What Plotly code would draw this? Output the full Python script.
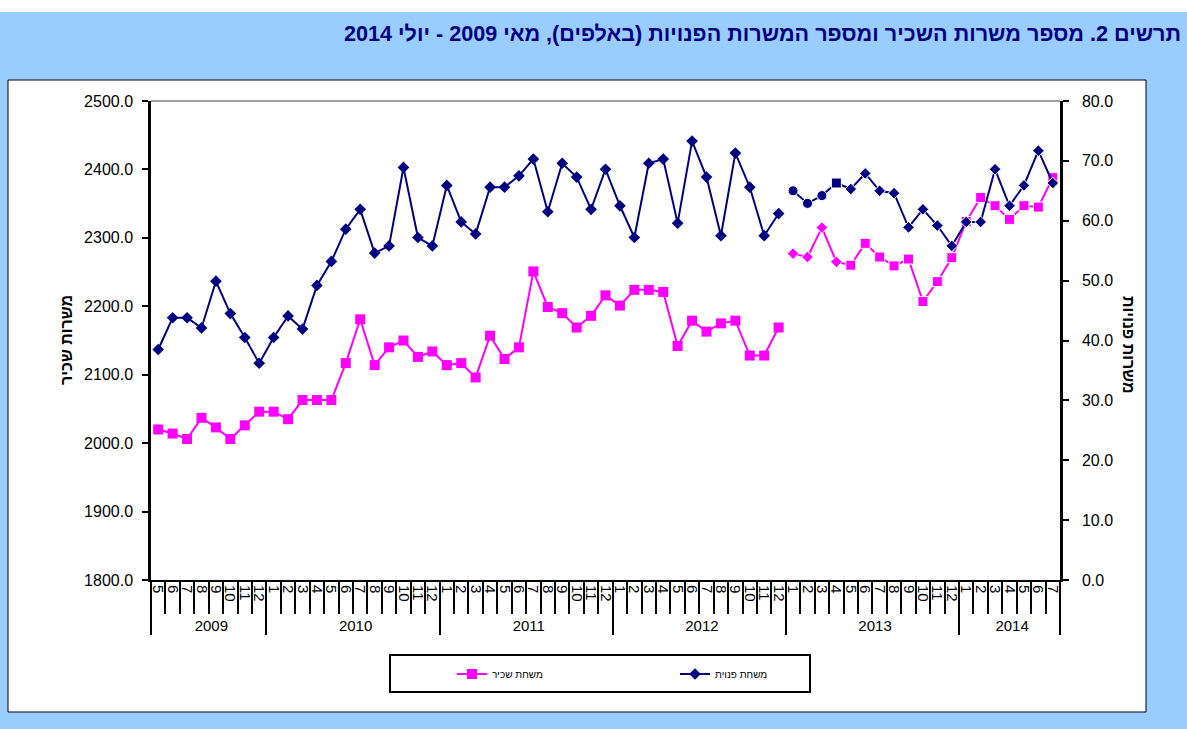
import plotly.graph_objects as go

# ---------------- data ----------------
year_labels = [
    2009, 2009, 2009, 2009, 2009, 2009, 2009, 2009,
    2010, 2010, 2010, 2010, 2010, 2010, 2010, 2010, 2010, 2010, 2010, 2010,
    2011, 2011, 2011, 2011, 2011, 2011, 2011, 2011, 2011, 2011, 2011, 2011,
    2012, 2012, 2012, 2012, 2012, 2012, 2012, 2012, 2012, 2012, 2012, 2012,
    2013, 2013, 2013, 2013, 2013, 2013, 2013, 2013, 2013, 2013, 2013, 2013,
    2014, 2014, 2014, 2014, 2014, 2014, 2014,
]
month_labels = [
    5, 6, 7, 8, 9, 10, 11, 12,
    1, 2, 3, 4, 5, 6, 7, 8, 9, 10, 11, 12,
    1, 2, 3, 4, 5, 6, 7, 8, 9, 10, 11, 12,
    1, 2, 3, 4, 5, 6, 7, 8, 9, 10, 11, 12,
    1, 2, 3, 4, 5, 6, 7, 8, 9, 10, 11, 12,
    1, 2, 3, 4, 5, 6, 7,
]
# salaried jobs (thousands) - left axis
salaried_jobs = [
    2020, 2014, 2006, 2037, 2023, 2006, 2026, 2046,
    2046, 2035, 2063, 2063, 2063, 2117, 2181, 2114, 2140, 2150, 2126, 2134,
    2114, 2117, 2096, 2157, 2123, 2140, 2251, 2199, 2190, 2169, 2186, 2216,
    2201, 2224, 2224, 2221, 2142, 2179, 2163, 2175, 2179, 2128, 2128, 2169,
    2277, 2272, 2315, 2265, 2260, 2292, 2272, 2259, 2269, 2207, 2236, 2271,
    2324, 2359, 2347, 2327, 2347, 2345, 2388,
]
# vacant jobs (thousands) - right axis
vacant_jobs = [
    38.5, 43.8, 43.8, 42.1, 49.9, 44.5, 40.5, 36.2,
    40.5, 44.1, 41.9, 49.2, 53.2, 58.6, 61.9, 54.6, 55.8, 68.9, 57.2, 55.8,
    65.9, 59.8, 57.8, 65.6, 65.6, 67.5, 70.3, 61.5, 69.6, 67.3, 61.9, 68.6,
    62.5, 57.2, 69.6, 70.3, 59.6, 73.3, 67.3, 57.5, 71.3, 65.6, 57.5, 61.2,
    65.0, 62.9, 64.2, 66.3, 65.3, 67.9, 65.0, 64.6, 58.9, 61.9, 59.2, 55.8,
    59.8, 59.8, 68.6, 62.5, 65.9, 71.7, 66.3,
]
split_index = 44  # series break between 12/2012 and 1/2013

title_text = "תרשים 2. מספר משרות השכיר ומספר המשרות הפנויות (באלפים), מאי 2009 - יולי 2014"
left_title = "משרות שכיר"
right_title = "משרות פנויות"
name_salaried = "משחת שכיר"
name_vacant = "משחת פנוית"

# ---------------- layout geometry ----------------
W, H = 1187, 729
PL, PR, PT, PB = 151, 1060, 101, 580


def px_x(p):
    return (p - PL) / (PR - PL)


def px_y(p):
    return (PB - p) / (PB - PT)


PINK = "#FF00FF"
NAVY = "#000080"
FONT = "Liberation Sans, Arial, sans-serif"

# Plotly orders inner multicategory labels by first appearance; the first
# (partial) year starts in May, so its month labels get an invisible
# zero-width marker to keep every year's months in calendar order.
first_year = year_labels[0]
month_cats = [f"{m}\u200b" if y == first_year else str(m)
              for y, m in zip(year_labels, month_labels)]

xa = [year_labels[:split_index], month_cats[:split_index]]
xb = [year_labels[split_index:], month_cats[split_index:]]
nb = len(year_labels) - split_index
n_cat = len(year_labels)

pink_sym_b = ["diamond"] * 4 + ["square"] * (nb - 4)
pink_size_b = [9] * 4 + [10] * (nb - 4)
navy_sym_b = ["circle"] * 3 + ["square"] + ["diamond"] * (nb - 4)
navy_size_b = [10] * 4 + [9] * (nb - 4)

fig = go.Figure()
fig.add_trace(go.Scatter(
    x=xa, y=salaried_jobs[:split_index], name=name_salaried, mode="lines+markers",
    line=dict(color=PINK, width=2), marker=dict(symbol="square", size=10, color=PINK),
    legendgroup="s"))
fig.add_trace(go.Scatter(
    x=xb, y=salaried_jobs[split_index:], name=name_salaried, mode="lines+markers",
    line=dict(color=PINK, width=2),
    marker=dict(symbol=pink_sym_b, size=pink_size_b, color=PINK, opacity=1),
    legendgroup="s", showlegend=False))
fig.add_trace(go.Scatter(
    x=xa, y=vacant_jobs[:split_index], name=name_vacant, mode="lines+markers", yaxis="y2",
    line=dict(color=NAVY, width=2), marker=dict(symbol="diamond", size=9, color=NAVY),
    legendgroup="v"))
fig.add_trace(go.Scatter(
    x=xb, y=vacant_jobs[split_index:], name=name_vacant, mode="lines+markers", yaxis="y2",
    line=dict(color=NAVY, width=2),
    marker=dict(symbol=navy_sym_b, size=navy_size_b, color=NAVY, opacity=1),
    legendgroup="v", showlegend=False))

shapes = [
    # white strip at very top
    dict(type="rect", xref="paper", yref="paper", x0=px_x(-10), x1=px_x(W + 10),
         y0=px_y(12), y1=px_y(-10), fillcolor="white", line=dict(width=0), layer="below"),
    # chart area
    dict(type="rect", xref="paper", yref="paper", x0=px_x(8), x1=px_x(1146),
         y0=px_y(712), y1=px_y(80), fillcolor="white", line=dict(color="black", width=1),
         layer="below"),
    # top gray border of plot area
    dict(type="line", xref="paper", yref="paper", x0=0, x1=1, y0=1, y1=1,
         line=dict(color="#808080", width=1.5)),
    # legend box
    dict(type="rect", xref="paper", yref="paper", x0=px_x(390), x1=px_x(810),
         y0=px_y(692), y1=px_y(655), fillcolor="white", line=dict(color="black", width=2),
         layer="below"),
]

annotations = [
    dict(text=title_text, xref="paper", yref="paper", x=px_x(1183), y=px_y(33),
         xanchor="right", yanchor="middle", showarrow=False,
         font=dict(family=FONT, size=21.6, color=NAVY, weight="bold")),
    dict(text=left_title, xref="paper", yref="paper", x=px_x(66), y=px_y(340),
         xanchor="center", yanchor="middle", showarrow=False, textangle=-90,
         font=dict(family=FONT, size=16, color="black", weight="bold")),
    dict(text=right_title, xref="paper", yref="paper", x=px_x(1129), y=px_y(345),
         xanchor="center", yanchor="middle", showarrow=False, textangle=90,
         font=dict(family=FONT, size=16, color="black", weight="bold")),
]

fig.update_layout(
    width=W, height=H,
    margin=dict(l=PL, r=W - PR, t=PT, b=H - PB, pad=0),
    paper_bgcolor="#99CCFF",
    plot_bgcolor="white",
    font=dict(family=FONT, color="black"),
    showlegend=True,
    legend=dict(orientation="h", x=px_x(452), y=px_y(674), xanchor="left", yanchor="middle",
                bgcolor="rgba(0,0,0,0)", borderwidth=0, font=dict(size=10),
                entrywidth=178, entrywidthmode="pixels", traceorder="normal"),
    xaxis=dict(type="multicategory", tickmode="linear", dtick=1,
               range=[-0.5, n_cat - 0.5], autorange=False,
               showline=True, linecolor="black", linewidth=2,
               ticks="outside", ticklen=32, tickwidth=1.5, tickcolor="black",
               tickangle=90, tickfont=dict(size=15), showgrid=False, zeroline=False,
               dividercolor="black", dividerwidth=1.5),
    yaxis=dict(range=[1800, 2500], dtick=100, tickformat=".1f", showline=True,
               linecolor="black", linewidth=2.5, ticks="outside", ticklen=6, tickwidth=1.5,
               tickcolor="black", showgrid=False, zeroline=False, tickfont=dict(size=16),
               ticklabelstandoff=6),
    yaxis2=dict(range=[0, 80], dtick=10, tickformat=".1f", overlaying="y", side="right",
                showline=True, linecolor="black", linewidth=2.5, ticks="outside", ticklen=6,
                tickwidth=1.5, tickcolor="black", showgrid=False, zeroline=False,
                tickfont=dict(size=16), ticklabelstandoff=10),
    shapes=shapes,
    annotations=annotations,
)

fig.write_html("out.html", config={"displayModeBar": False},
               post_script="document.body.style.margin='0';")
